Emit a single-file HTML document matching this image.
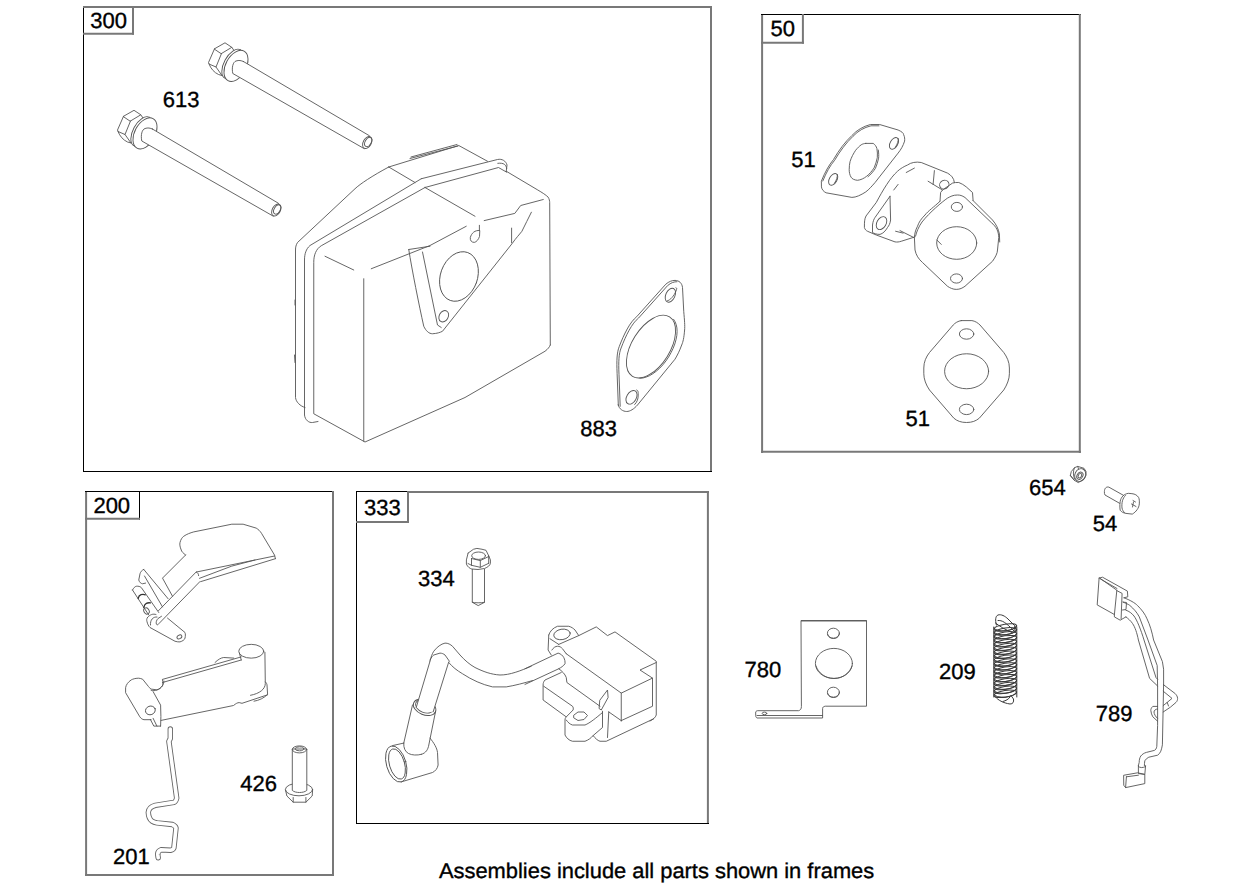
<!DOCTYPE html>
<html><head><meta charset="utf-8">
<style>
html,body{margin:0;padding:0;background:#fff;}
body{width:1260px;height:888px;overflow:hidden;}
svg{display:block;}
text{font-family:"Liberation Sans",sans-serif;fill:#000;stroke:#000;stroke-width:0.35;text-rendering:geometricPrecision;}
.fr{fill:none;stroke:#000;stroke-width:1;}
.ln{fill:none;stroke:#555;stroke-width:0.9;stroke-linejoin:round;stroke-linecap:round;}
.lnf{fill:#fff;stroke:#555;stroke-width:0.9;stroke-linejoin:round;stroke-linecap:round;}
</style></head>
<body>
<svg width="1260" height="888" viewBox="0 0 1260 888">
<!-- frames -->
<g id="frames" fill="none">
<line x1="83.5" y1="6" x2="83.5" y2="472" stroke="#000" stroke-width="1"/>
<line x1="83" y1="7" x2="712" y2="7" stroke="#787878" stroke-width="2"/>
<line x1="711" y1="6" x2="711" y2="472" stroke="#787878" stroke-width="2"/>
<line x1="83" y1="471.5" x2="712" y2="471.5" stroke="#000" stroke-width="1"/>
<line x1="133" y1="6" x2="133" y2="34.7" stroke="#787878" stroke-width="2"/>
<line x1="83" y1="33.7" x2="134" y2="33.7" stroke="#787878" stroke-width="2"/>
<line x1="762.1" y1="14" x2="762.1" y2="453" stroke="#787878" stroke-width="2"/>
<line x1="761" y1="14.5" x2="1081" y2="14.5" stroke="#000" stroke-width="1"/>
<line x1="1079.8" y1="14" x2="1079.8" y2="453" stroke="#787878" stroke-width="2"/>
<line x1="761" y1="451.8" x2="1081" y2="451.8" stroke="#787878" stroke-width="2"/>
<line x1="802.9" y1="14" x2="802.9" y2="43.7" stroke="#787878" stroke-width="2"/>
<line x1="761" y1="42.7" x2="804" y2="42.7" stroke="#787878" stroke-width="2"/>
<line x1="86.1" y1="491" x2="86.1" y2="876" stroke="#787878" stroke-width="2"/>
<line x1="85" y1="491.5" x2="334" y2="491.5" stroke="#000" stroke-width="1"/>
<line x1="333" y1="491" x2="333" y2="876" stroke="#787878" stroke-width="2"/>
<line x1="85" y1="874.9" x2="334" y2="874.9" stroke="#787878" stroke-width="2"/>
<line x1="139.5" y1="491" x2="139.5" y2="519.7" stroke="#000" stroke-width="1"/>
<line x1="85" y1="518.7" x2="140" y2="518.7" stroke="#787878" stroke-width="2"/>
<line x1="356.5" y1="491" x2="356.5" y2="824" stroke="#000" stroke-width="1"/>
<line x1="356" y1="491.5" x2="408" y2="491.5" stroke="#000" stroke-width="1"/>
<line x1="408" y1="492" x2="709" y2="492" stroke="#787878" stroke-width="2"/>
<line x1="707.9" y1="491" x2="707.9" y2="824" stroke="#787878" stroke-width="2"/>
<line x1="356" y1="823.5" x2="709" y2="823.5" stroke="#000" stroke-width="1"/>
<line x1="408" y1="491" x2="408" y2="523" stroke="#787878" stroke-width="2"/>
<line x1="356" y1="521.9" x2="409" y2="521.9" stroke="#787878" stroke-width="2"/>
</g>

<g id="f300" class="ln">
<!-- bolt lower-left -->
<g id="bolt613">
<path d="M123.5,116.3 L134,110.3 L140.8,114.8 L130.5,121 Z"/>
<path d="M123.5,116.3 L117.5,130 L118,131.5 L125,134.5 L130.5,121 M125,134.5 L131,143 M118,131.5 Q121,139 127.5,142 L131,143"/>
<path d="M140.8,114.8 L144,119.5 L149.5,117.3"/>
<ellipse class="lnf" cx="141.6" cy="131.5" rx="16.2" ry="8.5" transform="rotate(118.6 141.6 131.5)"/>
<ellipse class="lnf" cx="145" cy="133.4" rx="16.8" ry="10.2" transform="rotate(118.6 145 133.4)"/>
<path class="lnf" d="M152.5,129.06 L278.5,203.3 L273.5,216.3 L141.8,141 C140.5,135 142,129.5 145,128.5 C148,127.5 150,128 152.5,129.06 Z"/>
<ellipse class="lnf" cx="276.3" cy="210" rx="6.5" ry="4" transform="rotate(118.6 276.3 210)"/>
<ellipse cx="277.2" cy="209.5" rx="5" ry="3" transform="rotate(118.6 277.2 209.5)"/>
</g>
<use href="#bolt613" transform="translate(91,-67.5)"/>
<!-- muffler -->
<path d="M388.75,167 C372,176 360,184 355,188.75 L297.5,242.5 C296,245 295.5,247 295.5,250 L295.5,397.5 C296,402 300,406 305,407.5"/>
<path d="M388.75,167 L458.75,145.5 L487.5,161.25 M410,158.5 L458,146 M411,157 L457,144.5 M388.75,167 L415,182.5"/>
<path d="M421.25,178.75 L497.5,159.5 C502,158.5 506,161 507,165 L506.25,171.25 M425,187.5 L498.5,167.5 L506.7,172.2 M497.8,163.3 C500.5,163 503,163.3 504.4,164.3 C505.8,165.5 506.5,167 506.7,168.6"/>
<path d="M421.25,178.75 L310,245.5 C306,249 304.5,254 304.5,260 L304.5,415 C305,420 309,423 312.5,422.5 L318,421.5"/>
<path d="M425,187.5 L321.25,245.75 C316,249 313.75,255 313.75,262.5 L313.75,413.75 L365,442 L465,397.5 L545,351.25 C548,349 549.5,347 550.3,345"/>
<path d="M484.2,220.6 L514.8,213.4 L520.7,205.5 L543.3,199.5"/>
<path d="M506.25,171.25 L537.8,190 C542,192.5 546,195 548.1,197.1 C549.3,199 549.7,201 549.7,202.7 L550.3,345"/>
<path d="M425,187.5 L475,216.25"/>
<path d="M325,256.25 L353.75,270 M371.25,268.75 L430,245.5 L466.25,226.25"/>
<path d="M363.75,278.75 L363.75,441.25"/>
<path d="M408.75,249.5 L430,246.25 M408.75,249.5 C412,270 419,305 423.75,326.25 C426,331 429,333.75 432.5,333.75 C437,333.5 440,332.5 442.5,331.25 L512.4,243.2 C516,238 519,235 521.9,231.3 C525,225 528.5,218 531.4,212.2 M422.5,252 L437.5,325 L441.25,327.5"/>
<path d="M511.6,228.1 L511.6,242.8 M479.4,225.3 L479.4,230.5"/>
<ellipse cx="459" cy="276.5" rx="18.5" ry="25.5" transform="rotate(20 459 276.5)"/>
<ellipse cx="443.75" cy="316.25" rx="4.5" ry="6" transform="rotate(30 443.75 316.25)"/>
<path d="M479.4,230.5 C475,230 471.5,233 470.3,237.6 C470,240.5 471.5,242.4 474.3,242.4 C476.5,242 478.5,239.5 479.4,236.8 Z"/>
<path d="M294.5,355 L295,362.5 M295,300 L295,305"/>
<!-- gasket 883 -->
<path d="M618.3,405 L617.1,373.3 C616.5,360 617,352 619.2,346.7 C624,334 630,322 636.7,316.7 L665.8,284.2 C669,281.5 672,280.4 675,280.4 C679,280.4 682,283 682.5,287.5 L683.75,311.7 C684.5,320 685,326 684.6,330 C684,338 683,342 681.7,345 C679.5,351 677.5,355 675,359.2 L637.5,405 C634,409 630,411.5 626.7,411.5 C623,411.5 619,409 618.3,405 Z"/>
<path d="M619.9,405 L618.7,373.3 C618.1,360 618.6,352 620.8,346.7 C625.6,334 631.6,322 638.3,316.7 L667.4,284.2 C670.6,281.5 673.6,280.4 676.6,280.4" transform="translate(0.3,1.3)"/>
<ellipse cx="651" cy="346.6" rx="19" ry="35" transform="rotate(32 651 346.6)"/>
<path d="M673.6,319.4 L675.1,321.8 L676.2,324.6 L676.9,327.9 L677.1,331.6 L676.8,335.5 L676.0,339.7 L674.8,344.0 L673.1,348.4 L671.0,352.7 L668.6,357.0 L665.9,361.0 L662.9,364.8 L659.7,368.2 L656.3,371.2 L652.9,373.7 L649.5,375.7 L646.1,377.1 L642.9,378.0 L639.8,378.2"/>
<path d="M665.6,301 C669,300 672.5,296 674.5,291 C675.5,288.5 675.5,288 674.5,287.7" transform="translate(1.5,0)"/>
<path d="M633.5,404.5 C636,402 637,399 637,395 C637,391 636.8,390.5 635.5,390" transform="translate(1.2,0)"/>
<ellipse cx="670.4" cy="295.2" rx="4.6" ry="7.4" transform="rotate(25 670.4 295.2)"/>
<ellipse cx="631.5" cy="397.3" rx="4.8" ry="7.4" transform="rotate(30 631.5 397.3)"/>
</g>

<g id="f50" class="ln">
<!-- gasket 51 top -->
<path d="M821.5,180.8 C825,172 829,165 833.5,159.5 C839,150 845,142 851.9,135.5 C857,130 863,126.5 870.4,124.5 L879.6,124.5 L898.1,130 C901.5,131.5 903.6,133 903.6,134.6 C904.8,137 904.8,139 904.6,141.1 C903,146 901,149.5 898.1,153.1 L875,182.6 C872,186 869,189.5 865.8,191.9 C861,195 856,197.4 851.9,197.4 L826.1,192.8 C823.5,191.5 821.8,189.5 821.5,187.3 Z"/>
<path d="M822.8,181 C826.2,172.5 830.2,165.5 834.7,160.2 C840.2,150.8 846.2,142.8 853,136.3 C858,131 864,127.5 871,125.8 L879,125.8"/>
<path d="M865.8,143.4 L873.2,143.4 C875,144.5 876.3,146.5 876.9,148.5 C877.5,151.5 877.5,154.5 877.3,157.7 C876.5,161.5 875.5,164.5 874.1,167.9 C872,171 869.5,174 866.7,176.2 C864,178.5 860.5,180 857.5,180.3 C854.5,180 852,179 851,177.1 C849.8,175 849.2,172.5 849.2,169.7 C849.2,166.5 849.5,164 850.1,161.4 C851.5,157 853.5,153.5 855.6,150.3 C857.5,148 859.5,146 861.2,144.8 C862.5,144 864,143.5 865.8,143.4 Z"/>
<path d="M878.3,150 C878.8,153 878.8,156 878.6,158.2 C877.8,162 876.8,165 875.4,168.4 C873.3,171.5 870.8,174.5 868,176.7"/>
<ellipse cx="894" cy="143.4" rx="3.8" ry="6.4" transform="rotate(30 894 143.4)"/>
<path d="M898.2,138.5 C898.5,141 897.5,144 895.5,147"/>
<ellipse cx="833.2" cy="179.4" rx="3.8" ry="6.4" transform="rotate(30 833.2 179.4)"/>
<path d="M837.3,174.5 C837.6,177 836.6,180 834.6,183"/>
<!-- elbow -->
<path d="M954.4,182.5 C954,178 951,175 947.5,173.1 L921.25,162.5 C916,161.5 911,162.5 907.5,165 C904,166.5 900.5,168.5 897.5,171.25 C890,178 883,190 876.25,202.5 L866,216 C864.5,219 864.4,222 864.4,227.5 C865,229.5 866,230.5 867.5,231.25 L876.25,235 L895,241.9 C897,242.2 899,242 901.25,241.25 L915,236.9"/>
<path d="M890,196.25 L890.6,220 C890,224 889,225.5 887.5,227.5 C885.5,231 883,233.5 880,234.4 C877,234.5 874,233.5 872.5,232.5 L872.5,225 C873,221 874,219 875,217.5 L890,196.25"/>
<ellipse cx="881.5" cy="223.1" rx="4.6" ry="7" transform="rotate(30 881.5 223.1)"/>
<path d="M906.25,172.5 L914.4,168.1 M893.75,190 L898.1,184.4 M895.6,231.25 L903.1,233.1 M900,230.6 L913.75,237.5"/>
<path d="M934.4,170.6 L933.1,184.4 M928.1,181.25 L942.5,190"/>
<ellipse cx="944.3" cy="184.6" rx="4.8" ry="4.2" transform="rotate(-30 944.3 184.6)"/>
<path d="M940,201.25 L940.6,192.5 L942.5,190 L952.5,183.1 C954.5,182.5 956.5,182.4 958.75,182.5 C961.5,183.5 964,185 966.25,186.9 L972.5,192.5 L973.1,200.6"/>
<path d="M940,201.25 C934,207 928,211 925,215 C921,219 919,222 917.5,226.25 C915.5,230 914.5,234 914.4,237.5 L915,250 C916,255 918.5,259 922.5,262.5 L947.5,286.25 C950,288 953,289.4 956.25,289.4 C960,289.4 962.5,288 965,286.25 L992.5,261.25 C995.5,257 997.5,253 997.5,250 L998.75,237.5 C998.5,231 996.5,227 991.25,222.5 L965,197.5 C962,195.5 960,195 957.5,195 C953,195 950.5,196.5 947.5,198.1 C942,202 930,212 922,222 C918.5,227 916.5,232 915.6,236"/>
<path d="M973.1,200.6 L992.5,220 C996,224 998.5,229 999.4,234 L999.7,242"/>
<ellipse cx="956.7" cy="243" rx="20" ry="16.3"/>
<path d="M936.9,240 L941.25,244.4"/>
<ellipse cx="956.9" cy="206.9" rx="5.6" ry="4.5"/>
<ellipse cx="956.5" cy="278.5" rx="6" ry="4.6"/>
<!-- gasket 51 bottom -->
<path d="M961.25,320.6 L971.9,320.6 C975,321 978,323 980,325 L1003.75,352.5 C1007,357 1009.4,362 1009.4,368 L1009.4,373.75 C1009.4,379 1007,385 1003.75,390 L979.4,418.1 C976,421 972,422.5 966.6,422.5 C961,422.5 957,421 953.75,418.1 L929.5,390 C926,385 923.8,379 923.8,373.75 L923.8,368 C923.8,362 926,357 929.5,352.5 L953.2,325 C955,323 958,321 961.25,320.6 Z"/>
<ellipse cx="966.6" cy="371.25" rx="22" ry="17.5"/>
<ellipse cx="966.6" cy="334" rx="7.2" ry="5.2"/>
<ellipse cx="966.6" cy="409.4" rx="7.2" ry="5.2"/>
</g>

<g id="f200" class="ln">
<!-- governor lever -->
<path d="M185.6,555 C183,553 181.5,551.5 181.25,550 C180,547 179.5,544.5 180,542.5 C180.8,539.5 182,537.5 183.75,536.25 C187,534 190,533 193.75,531.9 L231.8,524.2 L243.1,524.2 L256.2,528.1 C258.5,529.5 260,531 261.5,533.3 L274.6,555.2 L275.4,558.7"/>
<path d="M274.6,556 L196.5,572 M199.5,578.3 L231.8,566.1 L255,560 M275.4,558.7 L200.8,581.6 M196.5,572.2 C198,573 198.6,574 198.6,575.6"/>
<path d="M196.25,571.9 L158.5,610.7 M200,581.5 L159,623.5 C158,625 157,625.2 156.4,624.2 C155.8,622.5 156.5,620 158,618.5 L161.5,616.3"/>
<path d="M185.6,555 L162.5,578.1 L172.5,596.25"/>
<path d="M143.75,569.4 C141.5,570.5 140.5,572 140,573.75 L138.75,580 C139.5,582.5 141,583.5 142.5,583.75 L145.6,583.1 M143.75,569.4 L168.1,598.75 M144.5,576 L162.5,606.9"/>
<path d="M132.5,590 C133.5,588 135,586.5 136.25,586.25 C138.5,586 140,586.5 141.25,587.5 L158.75,612.5 M132.5,590 L148.75,615"/>
<path style="stroke-width:1.3;stroke:#333" d="M138.2,598.5 C138.5,596.5 139.5,595.2 141,594.7 C142.5,594.3 144,594.3 145.3,594.8 M143.8,607.7 C144.2,605.5 145,604 146.3,603.4 C147.5,602.8 149,602.6 150.4,602.9"/>
<ellipse cx="146.5" cy="611" rx="2.6" ry="3.2" transform="rotate(-30 146.5 611)"/>
<path d="M147.5,617.5 C146.5,619 146.6,620 146.9,621.25 C147.5,624 148.5,626 150,627.5 L175,641.25 C177,641.8 178.5,642 180,641.9 C182.5,641 184.5,640 185,638.1 C185.5,636 185.5,634 185,632.5 L167.5,618.1"/>
<path d="M147.5,617.5 C150,614.5 153,613.5 156,614.5 M150.5,625 C150,620 153,616.5 157,617"/>
<ellipse cx="179.4" cy="636.9" rx="2.6" ry="1.8" transform="rotate(-30 179.4 636.9)"/>
<!-- throttle link -->
<ellipse cx="251.25" cy="651.25" rx="12.5" ry="6.9"/>
<path d="M264.9,652.3 L265.3,683.5 C265.2,689 260,693.5 250.5,695.3 M239.4,653.1 L241.25,660"/>
<path d="M265.5,682 C266.5,683 266.9,684 267,685 L267.6,694.4 C264,698 259,700.5 254,701.2"/>
<path d="M162.5,679.4 L241.25,656.9 M162.5,682.5 L241.25,660 M215,662.5 C218,659.5 221,657.8 223.75,657.5 L233.75,658.1"/>
<path d="M162.5,679.9 C163,682 163,684 162.5,685.6 C161,688 159,689.5 156.8,689.8 L151.1,689.1 C149.5,688 148.8,687 148.3,686.3 L142.6,679.2 C141,678.5 139.5,678.2 138.35,678.2 C135,678.3 133,679 131.25,679.9 C128,682 126,685 125.6,687.7 L125.6,692.7 L139.8,716.8 C141,718.5 142.5,719.5 144,719.7 L151.1,719.7"/>
<path d="M150.4,719.5 L153.8,726.1 L160.6,726.1 M153.1,718.3 L156.9,726.1 M153.1,691.6 L160.6,705.1 L160.9,716.6 L160.6,726.1 M151.1,690.3 C153,690.8 155,690.8 157,690 C159.5,689 161,687.5 162.3,686 C163.5,684 164,682.5 163.9,681"/>
<path d="M161.1,720.4 L233.5,705.5 C236,703.5 237.5,702.6 239.2,702.6 L242,703.3 L267.6,694.8"/>
<ellipse cx="150.4" cy="710.4" rx="5" ry="4.3" transform="rotate(-20 150.4 710.4)"/>
<!-- rod 201 -->
<path style="stroke:#666;stroke-width:5.4" d="M170.3,729 L170.3,738.5 L168.9,741.4 L176.7,798.2 C176,801 175,802 173.9,802.4 L155.4,805.3 C151,806.5 148.5,809 148.3,812.4 C148.5,817 150,819.5 151.8,820.9 C153.5,822 155,822.5 157,822.9 L172.4,824.5 C174.5,825.5 175.7,826.5 176,828 L173.9,847.9 C173.5,849.5 172,850 170.5,850.3 L161.1,849.8 C158.5,850.8 157.5,852.5 157.8,855 L158.2,857.8"/>
<path style="stroke:#fff;stroke-width:3.6" d="M170.3,729 L170.3,738.5 L168.9,741.4 L176.7,798.2 C176,801 175,802 173.9,802.4 L155.4,805.3 C151,806.5 148.5,809 148.3,812.4 C148.5,817 150,819.5 151.8,820.9 C153.5,822 155,822.5 157,822.9 L172.4,824.5 C174.5,825.5 175.7,826.5 176,828 L173.9,847.9 C173.5,849.5 172,850 170.5,850.3 L161.1,849.8 C158.5,850.8 157.5,852.5 157.8,855 L158.2,857.8"/>
<!-- bolt 426 -->
<path d="M285.5,790 L286.9,796 L293.2,802.2 L305.9,802.2 L312.2,796 L312.6,790 M293.2,797.5 L293.2,802.2 M305.9,797.5 L305.9,802.2"/>
<ellipse cx="299" cy="789.5" rx="13.6" ry="6.3"/>
<path class="lnf" d="M292.3,749.4 L292.3,790.4 C294,792 297,792.5 299.5,792.5 C302,792.5 305,792 306.8,790.4 L306.8,749.4 Z"/>
<ellipse cx="299.5" cy="749.4" rx="7.2" ry="3.5"/>
<ellipse cx="299.5" cy="748.8" rx="4.3" ry="2"/>
</g>
<g id="f333" class="ln">
<!-- bolt 334 -->
<path d="M468.1,553.1 L473.5,549.25 L476.9,548.4 L482,549.25 L486,550.3 L488.7,555.8"/>
<ellipse cx="478.6" cy="555.7" rx="6.9" ry="3.7"/>
<path d="M471.5,558.5 L471.5,565.3 M480.3,560.6 L480.3,567.3 M488.7,556.5 L488.7,563.3 M468.1,553.1 L466.4,559.9 L466.4,564 C467.5,567 470,568.5 471.8,569 L478,569.5 L484.5,568.5 C488,567 490,565.5 490.4,563.3 L490.4,559.9 L488.7,555.8"/>
<path d="M471.5,558.5 L480.3,560.6 L488.7,556.5 M468,563.5 L471.5,565.3 L480.3,567.3 L488.7,563.3"/>
<path d="M472.3,569.4 L472.3,602.3 L478.2,605.6 L484.5,602.3 L484.5,569.4 M472.3,602.3 C475,603 481,603 484.5,602.3"/>
<!-- coil lead -->
<path d="M430,661.25 C431,657 432,654 433.75,651.25 C437,647 441,644 445,643.1 C448,643 450.5,644.5 452.5,646.25 L460,655 C464.5,660 469.5,664.5 475,667.5 C483,671.5 491,674.5 500,675 C510,675 520,671 531.25,666.25"/>
<path d="M448.75,662.5 C452.5,667 457,670.5 462.5,673.75 C472,680 482,684.5 492.5,686.9 L506.25,686.9 C515,685.5 524,683 532.5,680.6"/>
<path d="M430,660 C431.5,657 433,655.5 433.75,655 L440,653.1 C442,653.2 443.5,653.8 445,655 L449.4,661.25"/>
<ellipse cx="424.6" cy="707.3" rx="11.8" ry="7.5" transform="rotate(22 424.6 707.3)"/>
<ellipse cx="424.6" cy="706.5" rx="9.5" ry="6" transform="rotate(22 424.6 706.5)"/>
<path style="fill:#fff;stroke:none" d="M430,661.25 L448.75,661.9 L433.2,711.8 C428,712 421,710 416.2,707.6 Z"/>
<path d="M430,661.25 L416.2,707.6 M448.75,661.9 L433.2,711.8"/>
<path d="M412.5,705 L403.75,743.1 M435.6,711.25 L428.8,745 C428,749.5 426,753 421.5,754.3"/>
<path d="M430,738.1 C434,743 437,748 437.5,752.5 L438.1,765 C437.5,768.5 435.5,771 432.5,772.5 L401.25,781.9"/>
<path d="M403.75,743.1 C403.5,748 405,751.5 408.5,753.5 C412,755.3 417,755.5 421.5,754.3"/>
<path d="M392.5,745.6 L403.75,743.1"/>
<ellipse cx="396.25" cy="764" rx="9.8" ry="18.6" transform="rotate(-16 396.25 764)"/>
<ellipse cx="397" cy="764" rx="7.6" ry="15.6" transform="rotate(-16 397 764)"/>
<!-- coil body -->
<path d="M548.75,635 C550,631 553,628 557.5,626.25 L568.75,626.25 C571.5,627 573.5,628.5 575,630 L578.75,635.6"/>
<ellipse cx="562" cy="634.4" rx="8.3" ry="5.2" transform="rotate(-10 562 634.4)"/>
<path d="M548.75,635 L548.1,650 L551.25,655 M550,638.75 L558.75,644.4"/>
<path d="M558.75,644.4 L578.75,635.6 L596.25,626.9 L607.5,635.6 L615,631.9 L656.25,661.25 L656.25,715 C655.5,717.5 653,719.5 650,721"/>
<path d="M656.25,662.5 L640,670 L652.5,678.1 L652.5,706.25 L621.25,720.6 M566.25,653.75 L621.25,693.1 L652.5,678.1 M621.25,693.1 L621.25,721"/>
<path d="M551.9,650 C553.5,647.5 555.5,646.3 557.5,646.25 C559.5,646.3 561,647 562.5,648.75 L566.25,653.75"/>
<path d="M525,668.75 L558.1,653.1 C561,654 562.7,655.5 563.75,657.5 C564.8,659.5 565.2,661.5 565,663.75 C563.5,666 561,667.5 558.75,668.75 L525,684.4"/>
<path d="M558.75,668.75 C562,671 565,674 566.25,677.5 L566.9,682.5 L600,706.25"/>
<path d="M561.25,672.5 L545,680 C543.7,681.5 543.1,683 543.1,685 L543.1,700 L566.25,716.9 L573.1,710 C573.5,708.5 573.3,707.3 572.5,706.25 L543.75,686.25"/>
<path d="M566.25,716.9 C565.3,717.8 565,718.8 565,720 L565,735 C566.5,738 569,740.5 572.5,741.25 L585,741.25 C588.5,740 591,738 593.1,735.6 L602.5,727.5 L602.5,711.25"/>
<path d="M566.25,720 C568,722.5 570,724.3 572.5,725 L585,725 C590,723 596,718 602.5,712.5"/>
<path d="M574,715 L578,712 L584,712 L587.5,715.5 L584,719.5 L578,720.5 L574,718 Z"/>
<path d="M593.1,735.6 C595.5,738.5 597.5,740.5 600,741.25 L606.25,741.25 L653.75,718.75"/>
<path d="M608.75,711.9 L607.5,737.5 M608.75,711.9 L621.25,720.6"/>
<path d="M600,700 L607.5,690 L608.1,697.5 L601.25,710 L599.4,708.75 Z"/>
</g>

<g id="loose" class="ln">
<!-- bracket 780 -->
<path d="M801.4,620.5 L866.5,620.5 L866.5,706.2 L825.3,706.2 C823.5,706.5 822.6,707.2 822.6,708.5 L822.6,718 L757,718 C756,717.5 755.7,716.5 755.7,715.5 L755.7,712 C756,711 757,710.7 758,710.7 L798.5,710.7 C800.3,710.3 801.4,709 801.4,707 Z"/>
<path d="M801.4,621 L866.5,621 M757,715.5 L822.6,715.5"/>
<ellipse cx="833.4" cy="633.2" rx="6" ry="5"/>
<path d="M827.6,634.5 C828.5,637.5 831,638.5 833.4,638.5 C836,638.5 838.5,637.5 839.2,634.5"/>
<ellipse cx="833.9" cy="663.4" rx="18.5" ry="15"/>
<path d="M816,666 C818,672.5 825,678.5 834,678.5 C843,678.5 850,672.5 852,666"/>
<ellipse cx="833.4" cy="692.2" rx="6" ry="5"/>
<path d="M827.6,693.5 C828.5,696.5 831,697.5 833.4,697.5 C836,697.5 838.5,696.5 839.2,693.5"/>
<ellipse cx="764.5" cy="713.4" rx="2.3" ry="1.3"/>
<!-- spring 209 -->
<g style="stroke:#3a3a3a;stroke-width:1">
<path d="M996.4,625 C995,620 995.5,616 998,615 C1001,614 1005,616 1008,619 L1014.7,625.7 L1015,632 M998,620.5 C1002,620 1006,622.5 1014,631"/>
<path d="M995.5,623 C999,626 1006,630 1012,632.5"/>
<ellipse cx="1005.3" cy="627.50" rx="11.4" ry="3.4" transform="rotate(-9 1005.3 627.50)"/>
<path d="M994,628.00 C995,632.70 1015,631.70 1016.6,626.00"/>
<ellipse cx="1005.3" cy="631.40" rx="11.4" ry="3.4" transform="rotate(-9 1005.3 631.40)"/>
<path d="M994,631.90 C995,636.60 1015,635.60 1016.6,629.90"/>
<ellipse cx="1005.3" cy="635.30" rx="11.4" ry="3.4" transform="rotate(-9 1005.3 635.30)"/>
<path d="M994,635.80 C995,640.50 1015,639.50 1016.6,633.80"/>
<ellipse cx="1005.3" cy="639.20" rx="11.4" ry="3.4" transform="rotate(-9 1005.3 639.20)"/>
<path d="M994,639.70 C995,644.40 1015,643.40 1016.6,637.70"/>
<ellipse cx="1005.3" cy="643.10" rx="11.4" ry="3.4" transform="rotate(-9 1005.3 643.10)"/>
<path d="M994,643.60 C995,648.30 1015,647.30 1016.6,641.60"/>
<ellipse cx="1005.3" cy="647.00" rx="11.4" ry="3.4" transform="rotate(-9 1005.3 647.00)"/>
<path d="M994,647.50 C995,652.20 1015,651.20 1016.6,645.50"/>
<ellipse cx="1005.3" cy="650.90" rx="11.4" ry="3.4" transform="rotate(-9 1005.3 650.90)"/>
<path d="M994,651.40 C995,656.10 1015,655.10 1016.6,649.40"/>
<ellipse cx="1005.3" cy="654.80" rx="11.4" ry="3.4" transform="rotate(-9 1005.3 654.80)"/>
<path d="M994,655.30 C995,660.00 1015,659.00 1016.6,653.30"/>
<ellipse cx="1005.3" cy="658.70" rx="11.4" ry="3.4" transform="rotate(-9 1005.3 658.70)"/>
<path d="M994,659.20 C995,663.90 1015,662.90 1016.6,657.20"/>
<ellipse cx="1005.3" cy="662.60" rx="11.4" ry="3.4" transform="rotate(-9 1005.3 662.60)"/>
<path d="M994,663.10 C995,667.80 1015,666.80 1016.6,661.10"/>
<ellipse cx="1005.3" cy="666.50" rx="11.4" ry="3.4" transform="rotate(-9 1005.3 666.50)"/>
<path d="M994,667.00 C995,671.70 1015,670.70 1016.6,665.00"/>
<ellipse cx="1005.3" cy="670.40" rx="11.4" ry="3.4" transform="rotate(-9 1005.3 670.40)"/>
<path d="M994,670.90 C995,675.60 1015,674.60 1016.6,668.90"/>
<ellipse cx="1005.3" cy="674.30" rx="11.4" ry="3.4" transform="rotate(-9 1005.3 674.30)"/>
<path d="M994,674.80 C995,679.50 1015,678.50 1016.6,672.80"/>
<ellipse cx="1005.3" cy="678.20" rx="11.4" ry="3.4" transform="rotate(-9 1005.3 678.20)"/>
<path d="M994,678.70 C995,683.40 1015,682.40 1016.6,676.70"/>
<ellipse cx="1005.3" cy="682.10" rx="11.4" ry="3.4" transform="rotate(-9 1005.3 682.10)"/>
<path d="M994,682.60 C995,687.30 1015,686.30 1016.6,680.60"/>
<ellipse cx="1005.3" cy="686.00" rx="11.4" ry="3.4" transform="rotate(-9 1005.3 686.00)"/>
<path d="M994,686.50 C995,691.20 1015,690.20 1016.6,684.50"/>
<ellipse cx="1005.3" cy="689.90" rx="11.4" ry="3.4" transform="rotate(-9 1005.3 689.90)"/>
<path d="M994,690.40 C995,695.10 1015,694.10 1016.6,688.40"/>
<ellipse cx="1005.3" cy="693.80" rx="11.4" ry="3.4" transform="rotate(-9 1005.3 693.80)"/>
<path d="M994,694.30 C995,699.00 1015,698.00 1016.6,692.30"/>
<path d="M993.8,627 L993.8,697 M1016.8,627 L1016.8,697"/>
<path d="M995.5,697 C998,700 1003,703 1010,704 C1013,704 1014,702 1013.5,699 L1011,695.5 M1003,701.5 C1006,700.5 1008.5,699.5 1010,697"/>
</g>
<!-- wire 789 -->
<path d="M1099.1,578.1 L1097.2,604.9 L1114.4,614.5 L1116.8,590.6 Z"/>
<path d="M1099.1,578.1 L1102.5,577.2 L1127.4,591.1 L1127.8,596.8 L1124,597.8 M1116.8,590.6 L1122.1,593.4 L1121.1,618.8 M1114.4,614.5 L1114.4,616.9 L1120.2,620.2 L1125.9,616.9 M1100.5,579 L1117,588.5"/>
<path d="M1123.1,602.1 L1126.5,602.5 L1126,609.5 L1122.5,610"/>
<path d="M1124,597.8 C1130,600 1135,603 1137.4,605.4 C1142,610 1145,614 1147,618.8 C1150,625 1152,632 1153.6,640 L1162.4,661.6 L1163.6,669.2 L1163.6,684.8"/>
<path d="M1123.1,602.1 C1125,603 1128,604 1129.8,605.4 C1134,609 1137,612.5 1139.3,616.9 L1148,640 L1157.2,665.6 L1157.6,686"/>
<path d="M1125.9,610.2 C1129,611 1132,613.5 1134,616 C1137,620 1141,630 1144,640 L1156,677.6 L1157.6,679.2"/>
<path d="M1125.9,616.9 C1128,618.5 1131,621 1132.6,623.6 C1135,627 1137,633 1138.4,640 L1149.6,678.4 L1157.6,686 L1157.6,725.6 L1156.8,746.4 C1156.5,748.5 1155.5,750 1154.4,750.4 L1146.4,752.4 C1144,753 1142,754.5 1140.8,756 C1139.6,758 1139.2,760 1139.2,762.4 L1138.4,765.6"/>
<path d="M1163.6,684.8 L1163.2,705.6 L1162.4,744.8 C1162,747 1161.5,749.5 1160.8,751.2 C1160,753 1159,754.3 1157.6,755.2 L1148.8,757.2 C1147,758 1145.7,759.3 1144.8,760.8 C1144.5,762.5 1144.4,764 1144.4,765.6"/>
<path d="M1163.6,684.8 L1175.2,693.6 C1176.5,695 1177.5,696.5 1177.6,698.4 C1177.6,700 1177,701.5 1176,702.4 L1170.4,707.2 L1163.2,712 M1163.2,691.2 L1172,698.4 L1167.2,702.4 L1163.2,705.6 M1167.2,702.4 L1168.5,706"/>
<path d="M1157.6,706.4 L1152.8,706.4 C1151.5,707.5 1150.8,709 1150.8,710.4 C1151,713 1151.8,715 1152.8,716.8 L1157.6,721.2 M1157.6,709 C1155.5,709 1154,710.5 1154,712 C1154,714 1155.5,716.5 1157.6,718.5"/>
<path d="M1138.4,765.6 L1138.4,773.6 L1144.8,774.4 L1145.6,765.6 M1138.4,766.5 C1140,768 1143,768 1145.6,766.5"/>
<path d="M1124,775.2 L1137.6,772.8 L1144.8,774.4 L1144.8,783.6 L1125.6,787.6 L1124,785.6 Z M1126.4,776.8 L1138.4,775.2 M1126.4,776.8 L1125.6,787.6"/>
<!-- nut 654 -->
<path d="M1070.4,475.3 L1071.3,471.5 L1074.5,467.7 L1077.7,466.4 L1084,468.3 L1086,471.5 L1086,475.3 L1084,479.1 L1078.3,482.6 L1074.5,480.4 Z"/>
<path d="M1070.4,475.3 L1074.5,480.4 M1074.5,467.7 C1073,471 1073,475 1074.5,479 M1077.7,466.4 L1078.5,469"/>
<ellipse cx="1080.2" cy="475" rx="5.3" ry="6.6" transform="rotate(25 1080.2 475)"/>
<ellipse cx="1079.9" cy="475.7" rx="2.8" ry="3.9" transform="rotate(30 1079.9 475.7)"/>
<ellipse cx="1079.9" cy="475.7" rx="1.6" ry="2.4" transform="rotate(30 1079.9 475.7)"/>
<!-- screw 54 -->
<path d="M1123.4,495.3 L1108.8,487.1 C1106,486.5 1104.5,488.5 1104.4,491.5 C1104.3,493 1104.5,494.3 1105,495 L1119.6,503.3"/>
<path d="M1127.9,493.4 C1124,494 1121,497 1120.2,501.4 C1119.5,506 1120,509 1120.2,510.25 C1121.5,512 1123.5,513 1126,513.4 L1132.3,514.1 C1136,512 1139,508 1139.3,503.9 C1139.5,501 1139.3,499 1138.7,497.6 C1137,495 1135,494 1132.3,493.7 Z"/>
<path d="M1125.5,495.5 C1122.5,498 1121.5,503 1122,508 C1122.5,510.5 1123.5,511.5 1124.5,512.5"/>
<path d="M1133,500.5 L1135.5,502 M1131.5,504 L1136,506.5 M1133.5,502 L1132.5,507"/>
</g>
<g id="labels" font-size="22">
<text transform="translate(90.2,27.9) scale(1.0,1)">300</text>
<text transform="translate(770.4,35.8) scale(1.0,1)">50</text>
<text transform="translate(93.4,512.9) scale(1.0,1)">200</text>
<text transform="translate(364,514.6) scale(1.0,1)">333</text>
<text transform="translate(162.8,106.5) scale(1.0,1)">613</text>
<text transform="translate(580.2,435.6) scale(1.0,1)">883</text>
<text transform="translate(791.3,166.6) scale(1.0,1)">51</text>
<text transform="translate(905.5,425.6) scale(1.0,1)">51</text>
<text transform="translate(1029,494.6) scale(1.0,1)">654</text>
<text transform="translate(1092.8,530.8) scale(1.0,1)">54</text>
<text transform="translate(418,586.1) scale(1.0,1)">334</text>
<text transform="translate(744.5,677.2) scale(1.0,1)">780</text>
<text transform="translate(939.1,678.6) scale(1.0,1)">209</text>
<text transform="translate(1095.8,720.8) scale(1.0,1)">789</text>
<text transform="translate(240.3,791.4) scale(1.0,1)">426</text>
<text transform="translate(113,864.2) scale(1.0,1)">201</text>
</g>
<text transform="translate(439,878.2) scale(1.027,1)" font-size="21.3">Assemblies include all parts shown in frames</text>
</svg>
</body></html>
